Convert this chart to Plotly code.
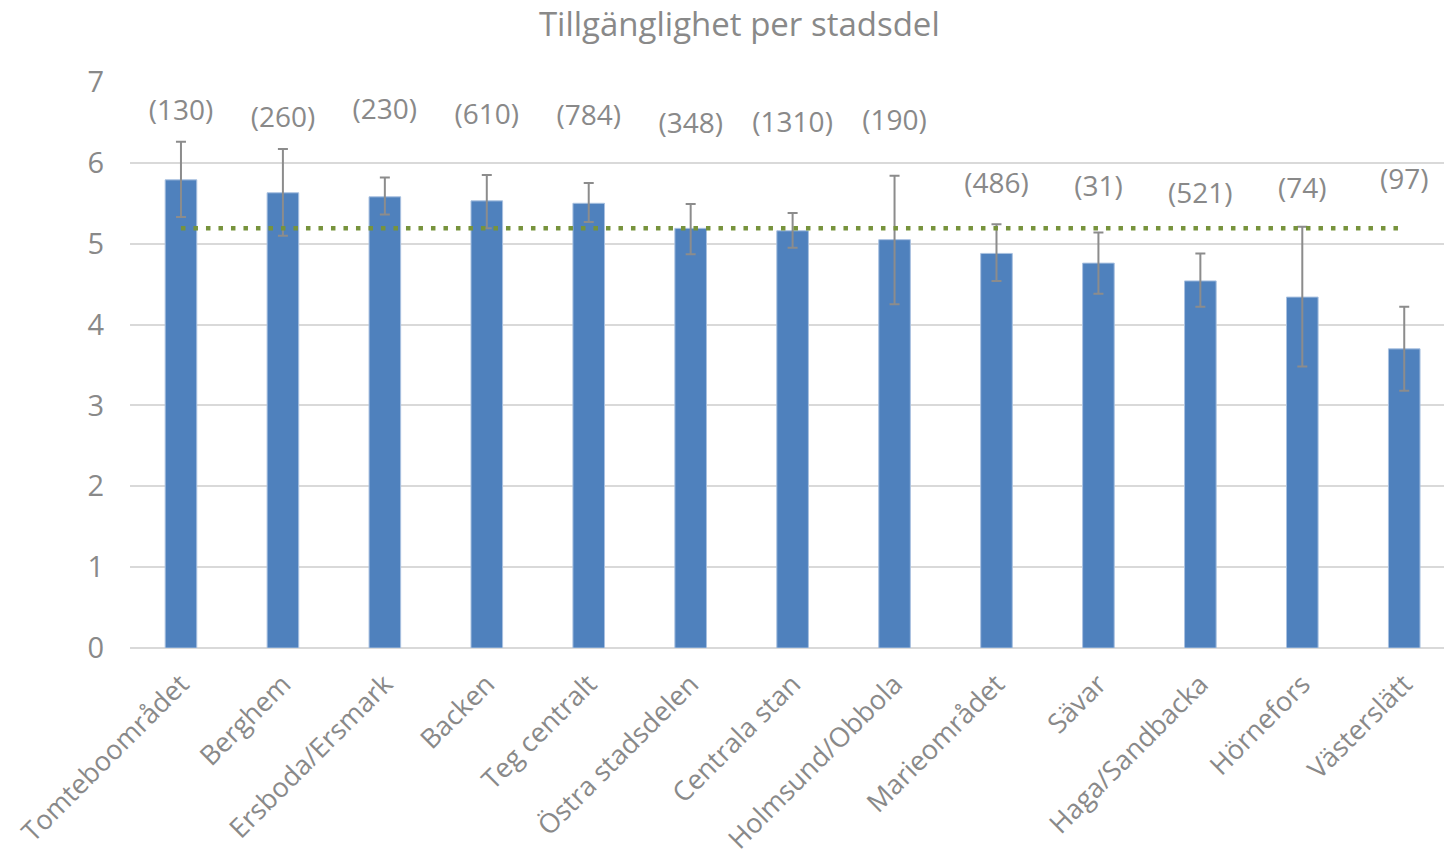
import plotly.graph_objects as go

categories = ["Tomteboområdet", "Berghem", "Ersboda/Ersmark", "Backen", "Teg centralt",
              "Östra stadsdelen", "Centrala stan", "Holmsund/Obbola", "Marieområdet",
              "Sävar", "Haga/Sandbacka", "Hörnefors", "Västerslätt"]
values = [5.79, 5.63, 5.58, 5.53, 5.50, 5.19, 5.16, 5.05, 4.88, 4.76, 4.54, 4.34, 3.70]
err_plus = [0.47, 0.54, 0.24, 0.32, 0.25, 0.30, 0.22, 0.79, 0.36, 0.38, 0.34, 0.87, 0.52]
err_minus = [0.46, 0.53, 0.22, 0.34, 0.23, 0.32, 0.21, 0.80, 0.34, 0.38, 0.32, 0.86, 0.52]
counts = ["(130)", "(260)", "(230)", "(610)", "(784)", "(348)", "(1310)", "(190)",
          "(486)", "(31)", "(521)", "(74)", "(97)"]
label_y = [6.62, 6.53, 6.63, 6.57, 6.55, 6.46, 6.47, 6.49, 5.71, 5.68, 5.59, 5.65, 5.76]
average = 5.19

grey = "#898989"
font = "Open Sans"

fig = go.Figure()
fig.add_trace(go.Bar(
    x=categories, y=values, width=0.31,
    marker=dict(color="#4F81BD", line=dict(color="#a9c1e0", width=1)),
    error_y=dict(type="data", symmetric=False, array=err_plus, arrayminus=err_minus,
                 color="#8c8c8c", thickness=2, width=5),
    showlegend=False,
))
fig.add_trace(go.Scatter(
    x=categories, y=[average] * len(categories), mode="lines",
    line=dict(color="#77933C", width=4.5, dash="4.5px,8px"), showlegend=False,
))
fig.add_trace(go.Scatter(
    x=categories, y=label_y, mode="text", text=counts,
    textfont=dict(family=font, size=28, color=grey), showlegend=False,
))

fig.update_layout(
    width=1444, height=857,
    margin=dict(l=130, r=0, t=82, b=209),
    paper_bgcolor="white", plot_bgcolor="white",
    title=dict(text="Tillgänglighet per stadsdel", x=0.512, xanchor="center",
               y=0.972, yanchor="middle",
               font=dict(family=font, size=33, color=grey)),
    bargap=0.69,
)
fig.update_xaxes(range=[-0.5, 12.39], tickangle=-45, showline=False, ticks="",
                 ticklabelstandoff=14,
                 tickfont=dict(family=font, size=27, color=grey))
fig.update_yaxes(range=[0, 7], dtick=1, showgrid=True, gridcolor="#d9d9d9", gridwidth=1.5,
                 zeroline=True, zerolinecolor="#d9d9d9", zerolinewidth=1.5,
                 ticks="", ticklabelstandoff=25,
                 tickfont=dict(family=font, size=29, color=grey))

fig.write_html("out.html", config={"displayModeBar": False},
               post_script="document.body.style.margin='0';document.body.style.overflow='hidden';")
